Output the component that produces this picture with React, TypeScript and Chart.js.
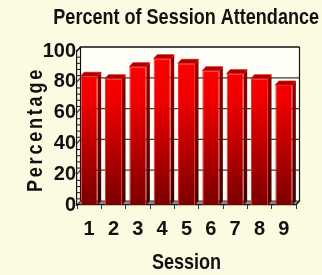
import React, { useEffect, useRef } from 'react';
import { Chart, registerables } from 'chart.js';

Chart.register(...registerables);

// ---- data ----
const sessions = ['1', '2', '3', '4', '5', '6', '7', '8', '9'];
const attendance = [83.6, 82, 89.8, 95, 92, 87.2, 85.3, 82, 77.9];
const yMajorTicks = [0, 20, 40, 60, 80, 100];
const chartTitle = 'Percent of Session Attendance';
const xAxisTitle = 'Session';
const yAxisTitle = 'Percentage';

// ---- style ----
const DX = 3.5;
const DY = 4;
const BG = '#FBFBE2';
const WALL = '#FFFFF7';
const FLOOR = '#8A8A8A';
const TEXT = '#111111';
const NARROW = 0.82;

function drawNarrowText(ctx: any, text: string, x: number, y: number, align: string, size: number) {
  ctx.save();
  ctx.translate(x, y);
  ctx.scale(NARROW, 1);
  ctx.font = `bold ${size}px 'Liberation Sans', Arial, sans-serif`;
  ctx.fillStyle = TEXT;
  ctx.textAlign = align;
  ctx.textBaseline = 'middle';
  ctx.fillText(text, 0, 0);
  ctx.restore();
}

const wallPlugin = {
  id: 'wall3d',
  beforeDraw(chart: any) {
    const { ctx, chartArea, scales } = chart;
    const y = scales.y;
    const L = chartArea.left;
    const R = chartArea.right;
    const B = y.getPixelForValue(0);
    const T = y.getPixelForValue(100);
    ctx.save();
    ctx.fillStyle = BG;
    ctx.fillRect(0, 0, chart.width, chart.height);
    // back wall
    ctx.fillStyle = WALL;
    ctx.fillRect(L + DX, T - DY, R - L, B - T);
    // left wall
    ctx.beginPath();
    ctx.moveTo(L, T);
    ctx.lineTo(L + DX, T - DY);
    ctx.lineTo(L + DX, B - DY);
    ctx.lineTo(L, B);
    ctx.closePath();
    ctx.fill();
    // floor
    ctx.fillStyle = FLOOR;
    ctx.beginPath();
    ctx.moveTo(L, B);
    ctx.lineTo(L + DX, B - DY);
    ctx.lineTo(R + DX, B - DY);
    ctx.lineTo(R, B);
    ctx.closePath();
    ctx.fill();
    // grid lines on back wall
    yMajorTicks.forEach((v) => {
      const py = y.getPixelForValue(v);
      ctx.beginPath();
      ctx.strokeStyle = v === 100 ? '#111' : '#3a3a3a';
      ctx.lineWidth = v === 100 ? 1.6 : 1.2;
      ctx.moveTo(L, py);
      ctx.lineTo(L + DX, py - DY);
      ctx.lineTo(R + DX, py - DY);
      ctx.stroke();
    });
    // wall edges
    ctx.strokeStyle = '#111';
    ctx.lineWidth = 1.2;
    ctx.beginPath();
    ctx.moveTo(L + DX, T - DY);
    ctx.lineTo(L + DX, B - DY);
    ctx.moveTo(R + DX, T - DY);
    ctx.lineTo(R + DX, B - DY);
    ctx.lineTo(R, B);
    ctx.stroke();
    // minor ticks on left wall
    ctx.lineWidth = 1;
    ctx.beginPath();
    for (let v = 4; v < 100; v += 4) {
      if (v % 20 === 0) continue;
      const py = y.getPixelForValue(v);
      ctx.moveTo(L, py);
      ctx.lineTo(L + 3, py);
    }
    ctx.stroke();
    ctx.restore();
  },
  afterDatasetsDraw(chart: any) {
    const { ctx, chartArea } = chart;
    const meta = chart.getDatasetMeta(0);
    const sideGrad = ctx.createLinearGradient(0, chartArea.top, 0, chartArea.bottom);
    sideGrad.addColorStop(0, '#A00000');
    sideGrad.addColorStop(1, '#3C0000');
    ctx.save();
    meta.data.forEach((bar: any) => {
      const { x, y, base, width } = bar.getProps(['x', 'y', 'base', 'width'], true);
      const l = x - width / 2;
      const r = x + width / 2;
      // side face
      ctx.fillStyle = sideGrad;
      ctx.beginPath();
      ctx.moveTo(r, y);
      ctx.lineTo(r + DX, y - DY);
      ctx.lineTo(r + DX, base - DY);
      ctx.lineTo(r, base);
      ctx.closePath();
      ctx.fill();
      // top face
      ctx.fillStyle = '#A80000';
      ctx.strokeStyle = '#E81010';
      ctx.lineWidth = 0.8;
      ctx.beginPath();
      ctx.moveTo(l, y);
      ctx.lineTo(l + DX, y - DY);
      ctx.lineTo(r + DX, y - DY);
      ctx.lineTo(r, y);
      ctx.closePath();
      ctx.fill();
      ctx.stroke();
    });
    ctx.restore();
  },
  afterDraw(chart: any) {
    const { ctx, chartArea } = chart;
    // chart title (narrow bold)
    drawNarrowText(ctx, chartTitle, 319, 18, 'right', 22);
    // x axis title
    drawNarrowText(ctx, xAxisTitle, (chartArea.left + chartArea.right) / 2, 263, 'center', 22);
    // y axis title (narrow, letter-spaced)
    ctx.save();
    ctx.translate(42, (chartArea.top + chartArea.bottom) / 2 + 1.5);
    ctx.rotate(-Math.PI / 2);
    ctx.scale(NARROW, 1);
    ctx.font = "bold 22px 'Liberation Sans', Arial, sans-serif";
    (ctx as any).letterSpacing = '3.4px';
    ctx.fillStyle = TEXT;
    ctx.textAlign = 'center';
    ctx.textBaseline = 'alphabetic';
    ctx.fillText(yAxisTitle, 0, 0);
    ctx.restore();
  },
};

export default function App() {
  const canvasRef = useRef<HTMLCanvasElement | null>(null);

  useEffect(() => {
    document.body.style.margin = '0';
    document.body.style.background = BG;
    const canvas = canvasRef.current;
    if (!canvas) return;
    const chart = new Chart(canvas, {
      type: 'bar',
      data: {
        labels: sessions,
        datasets: [
          {
            data: attendance,
            backgroundColor: (c: any) => {
              const area = c.chart.chartArea;
              if (!area) return '#FF0000';
              const g = c.chart.ctx.createLinearGradient(0, area.top, 0, area.bottom);
              g.addColorStop(0, '#FF0000');
              g.addColorStop(0.3, '#F20000');
              g.addColorStop(1, '#7A0000');
              return g;
            },
            borderColor: '#FF2A2A',
            borderWidth: 1,
            borderSkipped: 'start',
            barPercentage: 0.7,
            categoryPercentage: 1,
          },
        ],
      },
      plugins: [wallPlugin],
      options: {
        responsive: false,
        devicePixelRatio: 1,
        animation: false,
        layout: { padding: { left: 0, right: 3, top: 51, bottom: 0 } },
        plugins: {
          legend: { display: false },
          tooltip: { enabled: false },
          title: { display: false },
        },
        scales: {
          x: {
            offset: true,
            grid: {
              display: true,
              drawOnChartArea: false,
              drawTicks: true,
              tickLength: 4,
              color: '#333',
              offset: true,
            },
            border: { display: true, color: '#111', width: 1.2 },
            ticks: {
              color: TEXT,
              padding: 8,
              font: { family: "'Liberation Sans', Arial, sans-serif", weight: 'bold', size: 20 },
            },
            afterFit: (s: any) => {
              s.height = 70;
            },
          },
          y: {
            min: 0,
            max: 100,
            grid: { display: false, drawTicks: false },
            border: { display: true, color: '#111', width: 1.2 },
            ticks: {
              stepSize: 20,
              padding: 1,
              color: TEXT,
              font: { family: "'Liberation Sans', Arial, sans-serif", weight: 'bold', size: 20 },
            },
            afterFit: (s: any) => {
              s.width = 77;
            },
          },
          yR: {
            position: 'right',
            display: true,
            grid: { display: false, drawTicks: false },
            border: { display: false },
            ticks: { display: false },
            afterFit: (s: any) => {
              s.width = 23;
            },
          },
        },
      },
    } as any);
    return () => chart.destroy();
  }, []);

  return (
    <div style={{ width: 322, height: 275 }}>
      <canvas ref={canvasRef} width={322} height={275} style={{ display: 'block' }} />
    </div>
  );
}
